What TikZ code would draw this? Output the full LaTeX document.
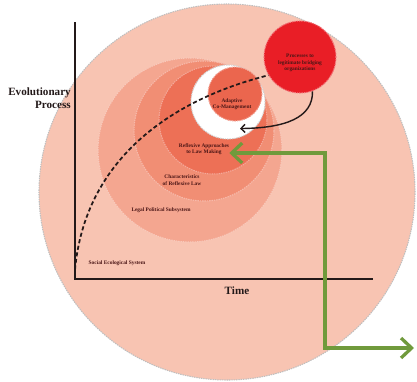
\documentclass[tikz,border=0pt]{standalone}
\usepackage{fontspec}
\setmainfont{Liberation Serif}
\usetikzlibrary{
  arrows.meta,
  positioning,
  calc
}
\definecolor{outerpink}{RGB}{248,196,178}
\definecolor{legalorange}{RGB}{244,166,144}
\definecolor{charorange}{RGB}{241,142,116}
\definecolor{reflexorange}{RGB}{237,112,86}
\definecolor{adaptorange}{RGB}{235,102,78}
\definecolor{bridgered}{RGB}{233,30,38}
\definecolor{labelbrown}{RGB}{75,22,22}
\definecolor{arrowgreen}{RGB}{112,154,60}
\definecolor{axisdark}{RGB}{35,25,25}

\begin{document}
\begin{tikzpicture}[
  x=0.03cm, y=-0.03cm,
  disc/.style={circle, inner sep=0pt, line width=0.9pt, dash pattern=on 1.2pt off 0.8pt},
  lab/.style={font=\bfseries\fontsize{4.6}{5.6}\selectfont, text=labelbrown, align=center, inner sep=0pt},
  axislab/.style={font=\bfseries\fontsize{9.5}{11.5}\selectfont, text=axisdark, inner sep=0pt},
  axis/.style={draw=axisdark, line width=1.3pt},
  greenarr/.style={draw=arrowgreen, line width=2.8pt,
    {Straight Barb[length=9pt,width=17pt]}-{Straight Barb[length=9pt,width=17pt]}}
]
  \useasboundingbox (0,0) rectangle (417,381);

  % nested systems
  \node[disc, fill=outerpink, draw=gray!50, minimum size=11.28cm] (ses) at (227,192) {};
  \node[disc, fill=legalorange, draw=legalorange!60!white, minimum size=5.52cm] (legal) at (190,150) {};
  \node[disc, fill=charorange, draw=charorange!60!white, minimum size=4.2cm] (char) at (204,131) {};
  \node[disc, fill=reflexorange, draw=reflexorange!60!white, minimum size=3.24cm] (reflex) at (213,120) {};
  \node[disc, fill=white, draw=gray!35, minimum size=2.22cm] (crescent) at (228,102) {};
  \node[disc, fill=adaptorange, draw=adaptorange!60!white, minimum size=1.62cm] (adaptive) at (235,94) {};
  \node[disc, fill=bridgered, draw=bridgered!60!white, minimum size=2.16cm] (bridge) at (300,57) {};

  % axes
  \coordinate (origin) at (75,279);
  \coordinate (ytop) at (75,22);
  \coordinate (xend) at (373,279);
  \draw[axis] (ytop) -- (origin) -- (xend);
  \node[axislab, align=right, anchor=east] (evo) at (71,98) {Evolutionary\\Process};
  \node[axislab] (time) at (237,291) {Time};

  % labels
  \node[lab] (seslab) at (117,263) {Social Ecological System};
  \node[lab] (legallab) at (161,210) {Legal Political Subsystem};
  \node[lab] (charlab) at (182,180) {Characteristics\\of Reflexive Law};
  \node[lab] (reflab) at (204,149) {Reflexive Approaches\\to Law Making};
  \node[lab] (adaptlab) at (232,104) {Adaptive\\Co-Management};
  \node[lab] (bridgelab) at (300,63) {Processes to\\legitimate bridging\\organizations};

  % evolutionary path
  \draw[axisdark, line width=1.5pt, dash pattern=on 3.5pt off 2.2pt]
    ([yshift=8pt]origin) .. controls (85,160) and (170,100) .. (bridge.210);

  % feedback into co-management
  \draw[axisdark, line width=1.2pt, -{Straight Barb[length=3.5pt,width=7pt]}]
    (bridge.-70) .. controls (313,118) and (285,128) .. ([shift={(5,7)}]adaptive.south);

  % green connector
  \coordinate (gcorner) at (325,153);
  \coordinate (gend) at (414,348);
  \draw[greenarr] (reflab.east |- gcorner) -- (gcorner) |- (gend);
\end{tikzpicture}
\end{document}
